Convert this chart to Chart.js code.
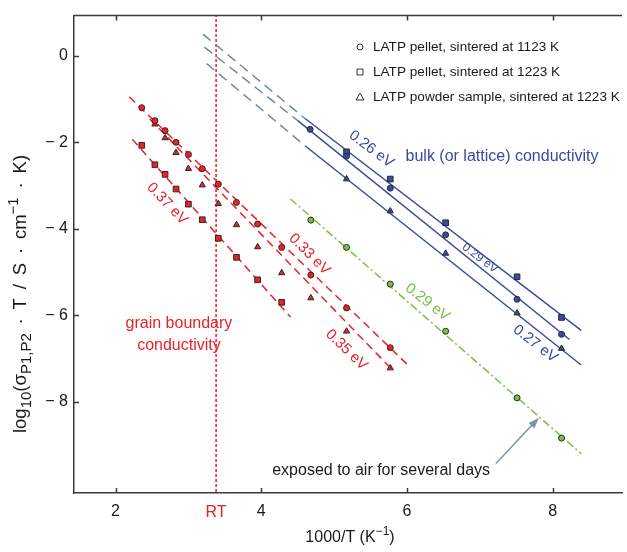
<!DOCTYPE html>
<html>
<head>
<meta charset="utf-8">
<script src="https://cdn.jsdelivr.net/npm/chart.js@4.4.0/dist/chart.umd.min.js"></script>
<style>
  html, body { margin: 0; padding: 0; background: #fff; }
  #wrap { width: 627px; height: 552px; }
</style>
</head>
<body>
<div id="wrap"><canvas id="arrheniusChart"></canvas></div>
<script>
// x = 1000/T (1/K), y = log10(sigma * T)
const xTicks = [2, 4, 6, 8];
const yTicks = [0, -2, -4, -6, -8];
const rtX = 3.38;

// grain boundary conductivity (red)
const gbCircleX = [2.36, 2.54, 2.68, 2.83, 3.00, 3.19, 3.41, 3.66, 3.95, 4.28, 4.68, 5.17, 5.77];
const gbCircleY = [-1.20, -1.50, -1.73, -2.00, -2.28, -2.61, -2.97, -3.39, -3.89, -4.43, -5.07, -5.83, -6.75];
const gbSquareX = [2.36, 2.54, 2.68, 2.83, 3.00, 3.19, 3.41, 3.66, 3.95, 4.28];
const gbSquareY = [-2.07, -2.52, -2.74, -3.08, -3.43, -3.79, -4.22, -4.66, -5.18, -5.70];
const gbTriangleX = [2.54, 2.68, 2.83, 3.00, 3.19, 3.41, 3.66, 3.95, 4.28, 4.68, 5.17, 5.77];
const gbTriangleY = [-1.58, -1.90, -2.24, -2.61, -2.99, -3.42, -3.91, -4.42, -5.02, -5.60, -6.37, -7.22];

// bulk conductivity (blue)
const bulkCircleX = [4.67, 5.17, 5.77, 6.53, 7.51, 8.12];
const bulkCircleY = [-1.70, -2.32, -3.06, -4.14, -5.63, -6.44];
const bulkSquareX = [5.17, 5.77, 6.53, 7.51, 8.12];
const bulkSquareY = [-2.22, -2.85, -3.86, -5.11, -6.05];
const bulkTriangleX = [5.17, 5.77, 6.53, 7.51, 8.12];
const bulkTriangleY = [-2.85, -3.59, -4.57, -5.95, -6.77];

// exposed to air (green)
const airX = [4.68, 5.17, 5.77, 6.53, 7.51, 8.12];
const airY = [-3.80, -4.43, -5.28, -6.37, -7.91, -8.84];

// fitted lines, [start, end]
const gbCircleFitX = [2.19, 6.00], gbCircleFitY = [-0.95, -7.13];
const gbTriangleFitX = [2.47, 5.82], gbTriangleFitY = [-1.46, -7.30];
const gbSquareFitX = [2.23, 4.40], gbSquareFitY = [-1.93, -6.04];
const bulkSquareFitX = [4.60, 8.39], bulkSquareFitY = [-1.45, -6.35];
const bulkCircleFitX = [4.50, 8.23], bulkCircleFitY = [-1.50, -6.56];
const bulkTriangleFitX = [4.60, 8.39], bulkTriangleFitY = [-2.08, -7.15];
const extSquareX = [3.20, 4.60], extSquareY = [0.50, -1.45];
const extCircleX = [3.22, 4.50], extCircleY = [0.20, -1.50];
const extTriangleX = [3.25, 4.60], extTriangleY = [-0.18, -2.08];
const airFitX = [4.40, 8.39], airFitY = [-3.31, -9.20];
const rtLineY = [-10.2, 1.0];

const legendLabels = [
  'LATP pellet, sintered at 1123 K',
  'LATP pellet, sintered at 1223 K',
  'LATP powder sample, sintered at 1223 K'
];

const RED = '#ec2027';
const BLUE = '#3b4a9f';
const GRAY = '#6f8c99';
const GREEN = '#7ac143';
const EDGE = '#2a2a2a';
const FONT = '"Liberation Sans", Arial, sans-serif';

function pts(xs, ys) {
  return xs.map((x, i) => ({ x: x, y: ys[i] }));
}

function markers(xs, ys, style, fill, r) {
  return {
    data: pts(xs, ys),
    showLine: false,
    pointStyle: style,
    pointRadius: r,
    pointBackgroundColor: fill,
    pointBorderColor: EDGE,
    pointBorderWidth: 1,
    order: 0
  };
}

function fitLine(xs, ys, color, dash, width) {
  return {
    data: pts(xs, ys),
    showLine: true,
    pointRadius: 0,
    borderColor: color,
    borderWidth: width || 1.5,
    borderDash: dash || [],
    order: 1
  };
}

// text annotations in data coordinates
const notes = [
  { t: '0.37 eV', x: 2.71, y: -3.42, c: RED, s: 15, r: 46 },
  { t: '0.33 eV', x: 4.66, y: -4.59, c: RED, s: 15, r: 45 },
  { t: '0.35 eV', x: 5.17, y: -6.80, c: RED, s: 15, r: 44 },
  { t: 'grain boundary', x: 2.87, y: -6.19, c: RED, s: 16, r: 0 },
  { t: 'conductivity', x: 2.87, y: -6.71, c: RED, s: 16, r: 0 },
  { t: '0.26 eV', x: 5.51, y: -2.16, c: BLUE, s: 15, r: 37 },
  { t: '0.29 eV', x: 7.00, y: -4.68, c: BLUE, s: 12, r: 37 },
  { t: '0.27 eV', x: 7.76, y: -6.66, c: BLUE, s: 15, r: 38 },
  { t: 'bulk (or lattice) conductivity', x: 5.98, y: -2.33, c: BLUE, s: 16, r: 0, a: 'left' },
  { t: '0.29 eV', x: 6.28, y: -5.70, c: GREEN, s: 15, r: 38 },
  { t: 'exposed to air for several days', x: 4.15, y: -9.59, c: '#1a1a1a', s: 16, r: 0, a: 'left' }
];
const arrowFrom = { x: 7.22, y: -9.43 };
const arrowTo = { x: 7.81, y: -8.37 };

// draws text pieces with sub/superscripts centered at (0,0)
function richText(ctx, parts, size, ratio) {
  const small = Math.round(size * (ratio || 0.72));
  let total = 0;
  parts.forEach(p => {
    ctx.font = (p[1] ? small : size) + 'px ' + FONT;
    total += ctx.measureText(p[0]).width;
  });
  let cx = -total / 2;
  parts.forEach(p => {
    ctx.font = (p[1] ? small : size) + 'px ' + FONT;
    const dy = p[1] === 1 ? size * 0.3 : p[1] === -1 ? -size * 0.38 : 0;
    ctx.fillText(p[0], cx, dy);
    cx += ctx.measureText(p[0]).width;
  });
}

const overlay = {
  id: 'overlay',
  afterDatasetsDraw(chart) {
    const { ctx, chartArea: a, scales: { x, y } } = chart;
    ctx.save();

    // frame top line and inward ticks
    ctx.strokeStyle = '#3a3a3a';
    ctx.lineWidth = 1.5;
    ctx.beginPath();
    ctx.moveTo(a.left, a.top);
    ctx.lineTo(a.right, a.top);
    xTicks.forEach(v => {
      const px = Math.round(x.getPixelForValue(v)) + 0.5;
      ctx.moveTo(px, a.bottom);
      ctx.lineTo(px, a.bottom - 5);
      ctx.moveTo(px, a.top);
      ctx.lineTo(px, a.top + 5);
    });
    yTicks.forEach(v => {
      const py = Math.round(y.getPixelForValue(v)) + 0.5;
      ctx.moveTo(a.left, py);
      ctx.lineTo(a.left + 5, py);
    });
    ctx.stroke();

    // annotations
    ctx.textBaseline = 'middle';
    notes.forEach(n => {
      ctx.save();
      ctx.translate(x.getPixelForValue(n.x), y.getPixelForValue(n.y));
      ctx.rotate(n.r * Math.PI / 180);
      ctx.fillStyle = n.c;
      ctx.font = n.s + 'px ' + FONT;
      ctx.textAlign = n.a || 'center';
      ctx.fillText(n.t, 0, 0);
      ctx.restore();
    });

    // arrow
    const x0 = x.getPixelForValue(arrowFrom.x), y0 = y.getPixelForValue(arrowFrom.y);
    const x1 = x.getPixelForValue(arrowTo.x), y1 = y.getPixelForValue(arrowTo.y);
    const ang = Math.atan2(y1 - y0, x1 - x0);
    ctx.strokeStyle = '#7c97a4';
    ctx.fillStyle = '#7c97a4';
    ctx.lineWidth = 1.5;
    ctx.beginPath();
    ctx.moveTo(x0, y0);
    ctx.lineTo(x1 - 8 * Math.cos(ang), y1 - 8 * Math.sin(ang));
    ctx.stroke();
    ctx.beginPath();
    ctx.moveTo(x1, y1);
    ctx.lineTo(x1 - 11 * Math.cos(ang) + 4 * Math.sin(ang), y1 - 11 * Math.sin(ang) - 4 * Math.cos(ang));
    ctx.lineTo(x1 - 11 * Math.cos(ang) - 4 * Math.sin(ang), y1 - 11 * Math.sin(ang) + 4 * Math.cos(ang));
    ctx.closePath();
    ctx.fill();

    // legend (open symbols)
    ctx.strokeStyle = '#333';
    ctx.fillStyle = '#fff';
    ctx.lineWidth = 1;
    const lx = 360, rows = [47, 72, 97];
    ctx.beginPath(); ctx.arc(lx, rows[0], 3, 0, Math.PI * 2); ctx.fill(); ctx.stroke();
    ctx.beginPath(); ctx.rect(lx - 3, rows[1] - 3, 6, 6); ctx.fill(); ctx.stroke();
    ctx.beginPath();
    ctx.moveTo(lx, rows[2] - 4); ctx.lineTo(lx + 4, rows[2] + 3); ctx.lineTo(lx - 4, rows[2] + 3);
    ctx.closePath(); ctx.fill(); ctx.stroke();
    ctx.fillStyle = '#1a1a1a';
    ctx.font = '13.6px ' + FONT;
    ctx.textAlign = 'left';
    legendLabels.forEach((t, i) => ctx.fillText(t, lx + 13, rows[i]));

    // RT label under the axis
    ctx.fillStyle = RED;
    ctx.font = '16px ' + FONT;
    ctx.textAlign = 'center';
    ctx.fillText('RT', x.getPixelForValue(rtX), a.bottom + 20);

    // axis titles
    ctx.fillStyle = '#1a1a1a';
    ctx.textAlign = 'left';
    ctx.save();
    ctx.translate(350, 538);
    richText(ctx, [['1000/T (K', 0], ['\u22121', -1], [')', 0]], 16);
    ctx.restore();
    ctx.save();
    ctx.translate(21, 294);
    ctx.rotate(-Math.PI / 2);
    const sp = '\u2009 ';
    richText(ctx, [['log', 0], ['10', 1], ['(\u03c3', 0], ['P1,P2', 1],
      [sp + '\u00b7' + sp + 'T' + sp + '/' + sp + 'S' + sp + '\u00b7' + sp + 'cm', 0],
      ['\u22121', -1], [sp + '\u00b7' + sp + 'K)', 0]], 18.5, 0.82);
    ctx.restore();

    ctx.restore();
  }
};

const chart = new Chart(document.getElementById('arrheniusChart'), {
  type: 'scatter',
  data: {
    datasets: [
      markers(gbCircleX, gbCircleY, 'circle', RED, 3),
      markers(gbSquareX, gbSquareY, 'rect', RED, 4),
      markers(gbTriangleX, gbTriangleY, 'triangle', RED, 3.6),
      markers(bulkCircleX, bulkCircleY, 'circle', BLUE, 3),
      markers(bulkSquareX, bulkSquareY, 'rect', BLUE, 4),
      markers(bulkTriangleX, bulkTriangleY, 'triangle', BLUE, 3.6),
      markers(airX, airY, 'circle', GREEN, 3),
      fitLine(gbCircleFitX, gbCircleFitY, RED, [8, 5]),
      fitLine(gbTriangleFitX, gbTriangleFitY, RED, [8, 5]),
      fitLine(gbSquareFitX, gbSquareFitY, RED, [8, 5]),
      fitLine(bulkSquareFitX, bulkSquareFitY, BLUE),
      fitLine(bulkCircleFitX, bulkCircleFitY, BLUE),
      fitLine(bulkTriangleFitX, bulkTriangleFitY, BLUE),
      fitLine(extSquareX, extSquareY, GRAY, [10, 6]),
      fitLine(extCircleX, extCircleY, GRAY, [10, 6]),
      fitLine(extTriangleX, extTriangleY, GRAY, [10, 6]),
      fitLine(airFitX, airFitY, GREEN, [8, 3, 2, 3]),
      fitLine([rtX, rtX], rtLineY, RED, [3, 2], 1.5)
    ]
  },
  options: {
    responsive: true,
    maintainAspectRatio: false,
    animation: false,
    layout: { padding: { top: 11, right: 0, left: 0, bottom: 0 } },
    plugins: {
      legend: { display: false },
      tooltip: { enabled: false }
    },
    scales: {
      x: {
        type: 'linear',
        min: 1.43,
        max: 8.95,
        afterBuildTicks: s => { s.ticks = xTicks.map(v => ({ value: v })); },
        afterFit: s => { s.height = 59; },
        grid: { display: false, drawTicks: false },
        border: { color: '#3a3a3a', width: 1.5 },
        ticks: {
          padding: 9,
          color: '#1a1a1a',
          font: { family: FONT, size: 16 },
          callback: v => String(v)
        }
      },
      y: {
        type: 'linear',
        min: -10.11,
        max: 0.93,
        afterBuildTicks: s => { s.ticks = yTicks.map(v => ({ value: v })); },
        afterFit: s => { s.width = 74; },
        grid: { display: false, drawTicks: false },
        border: { color: '#3a3a3a', width: 1.5 },
        ticks: {
          padding: 6,
          color: '#1a1a1a',
          font: { family: FONT, size: 16 },
          callback: v => v < 0 ? '\u2212 ' + (-v) : String(v)
        }
      }
    }
  },
  plugins: [overlay]
});
</script>
</body>
</html>
